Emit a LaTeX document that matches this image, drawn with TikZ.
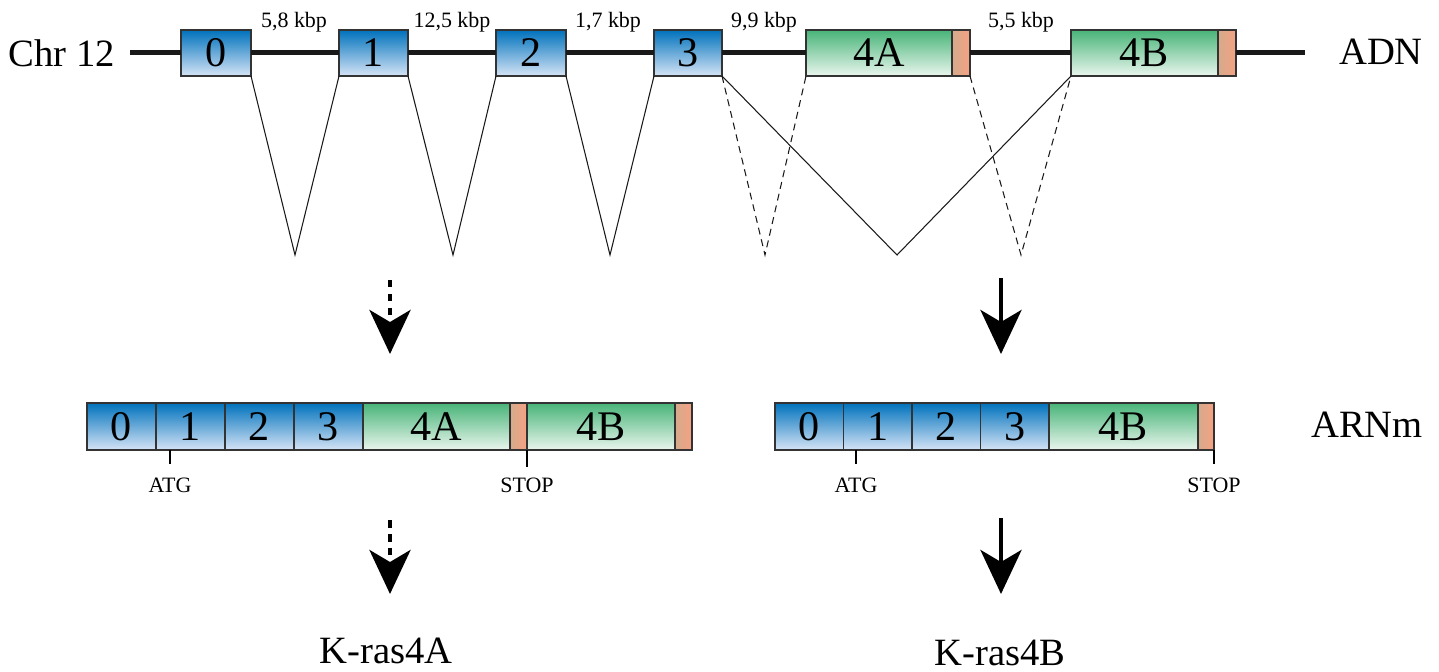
\documentclass[tikz,border=0pt]{standalone}
\usepackage{fontspec}
\setmainfont{Liberation Serif}
\usetikzlibrary{arrows.meta,positioning}

\definecolor{blueT}{RGB}{0,114,188}
\definecolor{blueB}{RGB}{214,228,246}
\definecolor{greenT}{RGB}{72,180,120}
\definecolor{greenB}{RGB}{234,246,238}
\definecolor{orT}{RGB}{212,170,140}
\definecolor{orB}{RGB}{245,162,130}

\tikzset{
	exon/.style={draw=black!80, line width=0.7pt, inner sep=0pt, outer sep=0pt, minimum height=0.92cm, font=\fontsize{24}{26}\selectfont},
	blueex/.style={exon, top color=blueT, bottom color=blueB},
	greenex/.style={exon, top color=greenT, bottom color=greenB},
	utr/.style={exon, left color=orT, right color=orB},
	cell/.style={minimum height=0.94cm},
	dna/.style={line width=0.1cm, black!90},
	intron/.style={line width=0.6pt, black!90},
	alt/.style={intron, dash pattern=on 0.14cm off 0.1cm},
	bigarrow/.style={line width=0.09cm, -{Stealth[length=0.88cm,width=0.82cm,inset=0.24cm]}},
	dasharrow/.style={bigarrow, dash pattern=on 0.15cm off 0.13cm},
	tick/.style={line width=1.2pt},
	big/.style={font=\fontsize{22}{24}\selectfont, inner sep=1pt},
	small/.style={font=\fontsize{12.5}{14}\selectfont}
}

\begin{document}
\begin{tikzpicture}[x=0.02cm, y=-0.02cm]
	
	\useasboundingbox (0,0) rectangle (1439,672);
	
	% gene on chromosome
	\coordinate (dnaL) at (130,53);
	\coordinate (dnaR) at (1305,53);
	\node[blueex, minimum width=1.40cm] (e0) at (216,53) {0};
	\node[blueex, minimum width=1.38cm] (e1) at (373.5,53) {1};
	\node[blueex, minimum width=1.40cm] (e2) at (531,53) {2};
	\node[blueex, minimum width=1.36cm] (e3) at (688,53) {3};
	\node[greenex, minimum width=2.92cm] (g4A) at (879,53) {4A};
	\node[utr, minimum width=0.36cm, line width=1.6pt, right=0pt of g4A] (o4A) {};
	\node[greenex, minimum width=2.94cm] (g4B) at (1144.5,53) {4B};
	\node[utr, minimum width=0.36cm, line width=1.6pt, right=0pt of g4B] (o4B) {};
	
	\path[dna] (dnaL) edge (e0);
	\path[dna] (e0) edge (e1);
	\path[dna] (e1) edge (e2);
	\path[dna] (e2) edge (e3);
	\path[dna] (e3) edge (g4A);
	\path[dna] (o4A) edge (g4B);
	\path[dna] (o4B) edge (dnaR);
	
	\node[big] (chr) at (62,53) {Chr 12};
	\node[big] (adn) at (1381,52) {ADN};
	
	% intron sizes
	\node[small] (k1) at (294,22) {5,8 kbp};
	\node[small] (k2) at (452,22) {12,5 kbp};
	\node[small] (k3) at (608,22) {1,7 kbp};
	\node[small] (k4) at (764,22) {9,9 kbp};
	\node[small] (k5) at (1021,22) {5,5 kbp};
	
	% splicing
	\coordinate (v01) at (295,255);
	\coordinate (v12) at (453,255);
	\coordinate (v23) at (610,255);
	\coordinate (v34) at (765,255);
	\coordinate (v3B) at (897,255);
	\coordinate (vAB) at (1021,255);
	
	\draw[intron] (e0.south east) -- (v01) -- (e1.south west);
	\draw[intron] (e1.south east) -- (v12) -- (e2.south west);
	\draw[intron] (e2.south east) -- (v23) -- (e3.south west);
	\draw[alt] (e3.south east) -- (v34) -- (g4A.south west);
	\draw[intron] (e3.south east) -- (v3B) -- (g4B.south west);
	\draw[alt] (o4A.south east) -- (vAB) -- (g4B.south west);
	
	% arrows to mRNA
	\coordinate (aA1) at (390,280);
	\coordinate (aA2) at (390,354);
	\coordinate (aB1) at (1001,278);
	\coordinate (aB2) at (1001,354);
	\draw[dasharrow] (aA1) -- (aA2);
	\draw[bigarrow] (aB1) -- (aB2);
	
	% mRNA K-ras4A
	\node[blueex, cell, minimum width=1.38cm, anchor=west] (l0) at (87,426.5) {0};
	\node[blueex, cell, minimum width=1.38cm, right=0pt of l0] (l1) {1};
	\node[blueex, cell, minimum width=1.38cm, right=0pt of l1] (l2) {2};
	\node[blueex, cell, minimum width=1.38cm, right=0pt of l2] (l3) {3};
	\node[greenex, cell, minimum width=2.94cm, right=0pt of l3] (l4A) {4A};
	\node[utr, cell, minimum width=0.34cm, right=0pt of l4A] (lo4A) {};
	\node[greenex, cell, minimum width=2.96cm, right=0pt of lo4A] (l4B) {4B};
	\node[utr, cell, minimum width=0.34cm, right=0pt of l4B] (lo4B) {};
	
	% mRNA K-ras4B
	\node[blueex, cell, minimum width=1.37cm, anchor=west] (r0) at (775,426.5) {0};
	\node[blueex, cell, minimum width=1.37cm, right=0pt of r0] (r1) {1};
	\node[blueex, cell, minimum width=1.37cm, right=0pt of r1] (r2) {2};
	\node[blueex, cell, minimum width=1.37cm, right=0pt of r2] (r3) {3};
	\node[greenex, cell, minimum width=2.98cm, right=0pt of r3] (r4B) {4B};
	\node[utr, cell, minimum width=0.32cm, right=0pt of r4B] (ro4B) {};
	
	\node[big] (arnm) at (1367,425) {ARNm};
	
	% start and stop codons
	\node[small] (atgA) at (170,485) {ATG};
	\node[small] (stopA) at (527,485) {STOP};
	\node[small] (atgB) at (856,485) {ATG};
	\node[small] (stopB) at (1214,485) {STOP};
	\draw[tick] (atgA |- l1.south) -- ++(0,14);
	\draw[tick] (stopA |- l4B.south) -- ++(0,17);
	\draw[tick] (atgB |- r1.south) -- ++(0,14);
	\draw[tick] (stopB |- ro4B.south) -- ++(0,14);
	
	% arrows to protein
	\coordinate (pA1) at (390,520);
	\coordinate (pA2) at (390,594);
	\coordinate (pB1) at (1001,518);
	\coordinate (pB2) at (1001,594);
	\draw[dasharrow] (pA1) -- (pA2);
	\draw[bigarrow] (pB1) -- (pB2);
	
	\node[big] (kA) at (386,651) {K-ras4A};
	\node[big] (kB) at (1000,653) {K-ras4B};
	
\end{tikzpicture}
\end{document}
